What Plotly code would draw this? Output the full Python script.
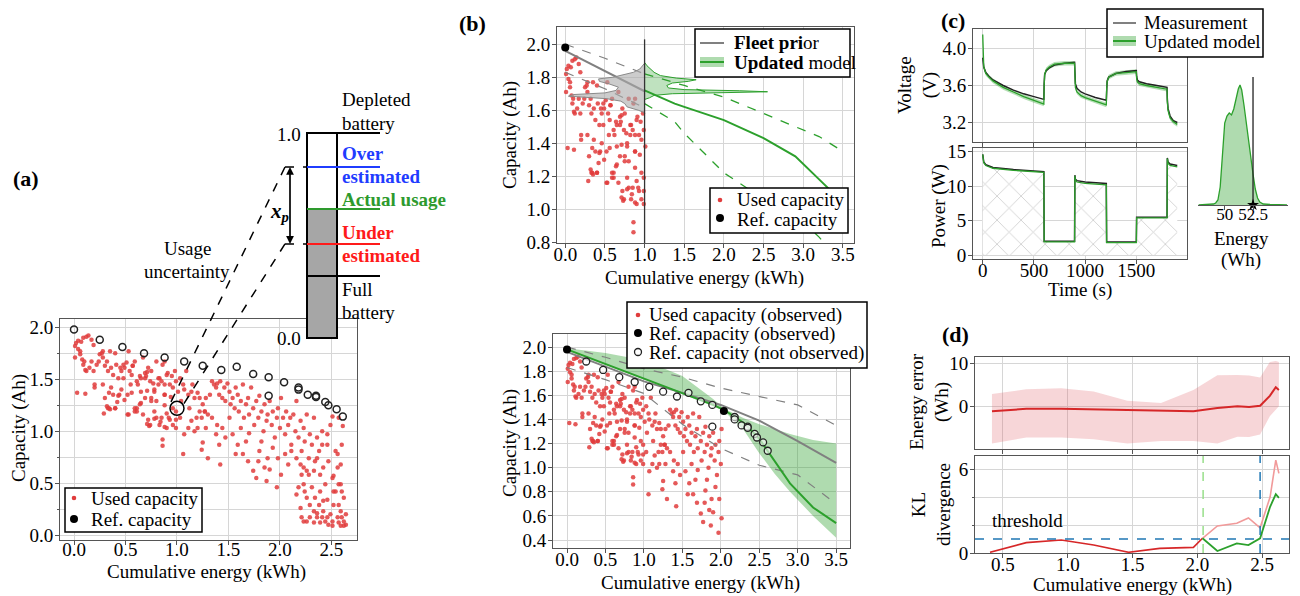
import plotly.graph_objects as go

W, H = 1300, 596
FONT = "Liberation Serif"
FS = 19
FRAME = "#555555"
GRID = "#d6d6d6"
RED = "#e03c3c"
GREEN = "#2ca02c"
LGREEN = "rgba(44,160,44,0.38)"
GRAY = "#808080"

# ---------------- data: used capacity samples (energy kWh, capacity Ah) ----------------
used_energy = [
    0.01, 0.02, 0.04, 0.07, 0.09, 0.12, 0.14, 0.17, 0.19,
    0.01, 0.04, 0.06, 0.06, 0.08, 0.10, 0.11, 0.09, 0.12, 0.15, 0.17, 0.19, 0.20, 0.20,
    0.22, 0.24, 0.25, 0.27, 0.28, 0.28, 0.30, 0.32, 0.33, 0.35, 0.36, 0.38, 0.40, 0.41, 0.43, 0.45,
    0.46, 0.48, 0.49, 0.51, 0.53, 0.54, 0.56, 0.57, 0.59, 0.61, 0.62, 0.64, 0.65, 0.67, 0.69, 0.70,
    0.72, 0.74, 0.75, 0.77, 0.78, 0.80, 0.82, 0.83, 0.85, 0.86, 0.88, 0.90, 0.91, 0.93, 0.95, 0.96,
    0.98, 0.99, 1.01, 1.03, 1.04, 1.06, 1.07, 1.09, 1.11, 1.12, 1.14, 1.15, 1.17, 1.19, 1.20, 1.22,
    1.24, 1.25, 1.27, 1.28, 1.30, 1.32,
    0.03, 0.11, 0.28, 0.30, 0.32, 0.33, 0.35, 0.36, 0.38, 0.40, 0.43, 0.46, 0.49, 0.53, 0.56, 0.59,
    0.61, 0.64, 0.65, 0.67, 0.69, 0.72, 0.74, 0.75, 0.78, 0.80, 0.83, 0.85, 0.86, 0.86, 0.90, 0.93,
    0.96, 0.99, 1.03, 1.06, 1.07, 1.11, 1.14, 1.17, 1.20, 1.24, 1.25, 1.28, 1.30, 1.27, 1.22,
    0.71, 0.73, 0.78, 0.84, 0.88, 0.99, 0.92, 0.99, 0.90, 0.96, 0.88, 0.80, 0.75, 0.59, 0.61, 0.52,
    0.40, 0.29, 0.34, 0.42, 0.65, 0.94, 0.88, 0.71, 0.78, 0.52, 0.44, 0.34, 0.88, 0.82, 0.69, 0.55,
    0.48, 0.57, 0.71, 0.88,
    1.34, 1.36, 1.38, 1.39, 1.41, 1.42, 1.44, 1.46, 1.47, 1.49, 1.51, 1.52, 1.54, 1.56, 1.57, 1.59,
    1.60, 1.62, 1.64, 1.65, 1.67, 1.69, 1.70, 1.72, 1.74, 1.75, 1.77, 1.79, 1.80, 1.82, 1.84, 1.85,
    1.87, 1.88, 1.90, 1.92, 1.93, 1.95, 1.97, 1.98, 2.00, 2.01, 2.03, 2.05, 2.06, 2.08, 2.10, 2.11,
    2.13, 2.15, 2.16, 2.18, 2.20, 2.21, 2.23, 2.24, 2.26, 2.28, 2.29, 2.31, 2.33, 2.34, 2.36, 2.38,
    2.39, 2.41, 2.42, 2.44, 2.46, 2.47, 2.49, 2.51, 2.52, 2.54, 2.56, 2.57, 2.59, 2.60, 2.62, 2.64,
    1.34, 1.38, 1.39, 1.41, 1.42, 1.44, 1.47, 1.51, 1.54, 1.57, 1.59, 1.62, 1.64, 1.67, 1.69, 1.70,
    1.74, 1.77, 1.79, 1.80, 1.82, 1.85, 1.87, 1.88, 1.90, 1.93, 1.97, 1.98, 2.01, 2.05, 2.08, 2.11,
    2.16, 2.20, 2.21, 2.23, 2.24, 2.26, 2.28, 2.29, 2.31, 2.33, 2.34, 2.36, 2.38, 2.39, 2.41, 2.42,
    2.44, 2.46, 2.47, 2.49, 2.51, 2.52, 2.54, 2.56, 2.57, 2.59, 2.60, 2.62, 2.64, 2.16, 2.18, 2.20,
    2.21, 2.23, 2.26, 2.29, 2.33, 2.36, 2.39, 2.42, 2.46, 2.51, 2.59, 2.62, 2.57, 2.52, 2.59, 2.56,
    2.60, 2.61, 2.57, 2.51, 2.46, 2.41, 2.36, 2.33, 2.26, 2.23,
]
used_capacity = [
    1.82, 1.85, 1.87, 1.86, 1.90, 1.91, 1.92, 1.88, 1.83,
    1.71, 1.79, 1.77, 1.74, 1.69, 1.67, 1.59, 1.64, 1.58, 1.61, 1.67, 1.58, 1.45, 1.42,
    1.64, 1.67, 1.74, 1.75, 1.77, 1.71, 1.63, 1.67, 1.58, 1.77, 1.61, 1.54, 1.75, 1.64, 1.51, 1.61,
    1.58, 1.64, 1.61, 1.66, 1.77, 1.58, 1.54, 1.63, 1.67, 1.48, 1.45, 1.53, 1.51, 1.71, 1.56, 1.53,
    1.61, 1.48, 1.58, 1.46, 1.38, 1.67, 1.45, 1.51, 1.48, 1.64, 1.35, 1.54, 1.56, 1.45, 1.53, 1.42,
    1.58, 1.48, 1.38, 1.51, 1.29, 1.45, 1.40, 1.58, 1.35, 1.22, 1.38, 1.45, 1.32, 1.13, 1.37, 1.32,
    1.13, 1.26, 1.19, 1.32, 1.16, 1.35,
    1.37, 1.36, 1.45, 1.32, 1.24, 1.22, 1.21, 1.42, 1.35, 1.22, 1.34, 1.40, 1.30, 1.16, 1.37, 1.19,
    1.22, 1.26, 1.38, 1.16, 1.32, 1.11, 1.06, 1.29, 1.19, 1.13, 1.06, 1.13, 0.92, 0.86, 1.03, 1.11,
    1.06, 1.19, 1.13, 0.78, 0.97, 1.03, 1.10, 1.00, 1.03, 0.82, 0.89, 1.03, 0.74, 1.19, 1.19,
    1.07, 1.05, 1.12, 1.09, 1.04, 1.03, 1.13, 1.11, 1.17, 1.22, 1.25, 1.29, 1.32, 1.22, 1.19, 1.16,
    1.22, 1.17, 1.22, 1.28, 1.27, 1.33, 1.35, 1.39, 1.40, 1.35, 1.35, 1.37, 1.45, 1.51, 1.51, 1.45,
    1.51, 1.63, 1.57, 1.67,
    1.48, 1.45, 1.42, 1.46, 1.35, 1.48, 1.32, 1.42, 1.29, 1.46, 1.38, 1.26, 1.32, 1.22, 1.42, 1.35,
    1.19, 1.29, 1.45, 1.13, 1.26, 1.32, 1.16, 1.42, 1.22, 1.06, 1.29, 1.13, 1.34, 1.19, 1.00, 1.26,
    1.10, 1.16, 1.29, 1.06, 1.19, 0.94, 1.13, 1.22, 1.03, 1.32, 1.13, 0.97, 1.19, 1.06, 1.13, 0.87,
    1.16, 1.00, 1.29, 0.94, 1.10, 0.81, 1.03, 0.90, 1.16, 0.74, 0.97, 0.87, 1.13, 0.71, 0.94, 0.81,
    0.58, 1.00, 0.65, 0.49, 0.87, 0.71, 1.06, 0.55, 0.42, 0.81, 0.65, 0.29, 0.49, 0.17, 0.36, 0.10,
    1.13, 0.97, 1.06, 0.87, 0.68, 1.03, 0.94, 1.13, 0.97, 0.78, 0.87, 1.03, 0.78, 0.90, 0.71, 0.98,
    0.62, 0.55, 0.71, 0.81, 0.90, 0.65, 0.52, 0.74, 0.63, 0.84, 0.46, 0.74, 0.58, 0.78, 0.68, 0.81,
    0.74, 0.68, 0.58, 0.49, 0.42, 0.36, 0.58, 0.29, 0.46, 0.23, 0.36, 0.17, 0.29, 0.42, 0.17, 0.23,
    0.13, 0.34, 0.10, 0.20, 0.13, 0.29, 0.42, 0.17, 0.12, 0.23, 0.42, 0.13, 0.20, 0.39, 0.46, 0.26,
    0.17, 0.13, 0.13, 0.17, 0.12, 0.21, 0.12, 0.33, 0.17, 0.09, 0.09, 0.09, 0.49, 0.57, 0.68, 0.78,
    0.87, 1.05, 1.13, 1.14, 0.97, 0.87, 0.74, 0.62, 0.62, 0.65,
]

ref_energy = [0.00, 0.25, 0.47, 0.68, 0.88, 1.07, 1.25, 1.43, 1.58, 1.74, 1.89, 1.89, 2.04,
              2.18, 2.18, 2.27, 2.35, 2.35, 2.44, 2.47, 2.55, 2.61]
ref_capacity = [1.98, 1.88, 1.81, 1.75, 1.71, 1.67, 1.63, 1.59, 1.62, 1.55, 1.52, 1.34, 1.47,
                1.42, 1.40, 1.35, 1.34, 1.33, 1.28, 1.25, 1.21, 1.14]
observed_ref_idx_bottom = [0, 12]
observed_ref_idx_top = [0]
obs_limit_top = 1.0      # kWh observed in (b) top
obs_limit_bottom = 2.04  # kWh observed in (b) bottom

# battery diagram (fraction of capacity, 0 = bottom, 1 = top)
bat_over = 0.834
bat_actual = 0.629
bat_under = 0.459
bat_full = 0.302
usage_point_energy = 1.0
usage_point_capacity = 1.22

# fleet prior (b)
prior_energy = [0.0, 0.5, 1.0, 1.5, 2.0, 2.5, 3.0, 3.5]
prior_mean = [1.96, 1.84, 1.715, 1.62, 1.52, 1.39, 1.22, 1.04]
prior_upper = [2.00, 1.915, 1.82, 1.75, 1.66, 1.59, 1.52, 1.35]
prior_lower = [1.83, 1.73, 1.615, 1.36, 1.16, 1.02, 0.94, 0.70]

# updated model after 1 kWh (b top)
upd1_energy = [1.0, 1.38, 1.5, 2.0, 2.5, 2.9, 3.2, 3.5]
upd1_mean = [1.72, 1.64, 1.62, 1.54, 1.43, 1.32, 1.18, 1.04]
upd1_upper = [1.82, 1.77, 1.75, 1.68, 1.58, 1.50, 1.44, 1.35]
upd1_lower = [1.64, 1.53, 1.46, 1.22, 1.06, 0.97, 0.83, 0.66]

# capacity densities at 1 kWh (b top)
prior_dens_cap = [1.585, 1.60, 1.62, 1.64, 1.655, 1.67, 1.685, 1.695, 1.705, 1.72, 1.74, 1.76,
                  1.775, 1.79, 1.80, 1.815, 1.83, 1.85, 1.87, 1.885]
prior_dens_w = [0.0, 0.08, 0.22, 0.25, 0.30, 0.48, 0.96, 0.90, 0.50, 0.36, 0.33, 0.45, 0.57,
                0.58, 0.40, 0.28, 0.14, 0.06, 0.02, 0.0]
post_dens_cap = [1.665, 1.675, 1.69, 1.70, 1.712, 1.718, 1.725, 1.735, 1.75, 1.765, 1.775, 1.785,
                 1.795, 1.81, 1.83, 1.85, 1.87, 1.89]
post_dens_w = [0.0, 0.06, 0.12, 0.35, 1.55, 1.20, 0.50, 0.30, 0.28, 0.35, 0.55, 0.65, 0.40,
               0.20, 0.12, 0.07, 0.03, 0.0]

# updated model after 2 kWh (b bottom)
upd2_energy = [0.0, 0.5, 1.0, 1.5, 1.9, 2.04, 2.3, 2.5, 2.7, 2.9, 3.2, 3.5]
upd2_mean = [1.98, 1.86, 1.74, 1.62, 1.52, 1.48, 1.37, 1.24, 1.06, 0.87, 0.67, 0.54]
upd2_upper = [1.99, 1.95, 1.89, 1.76, 1.57, 1.49, 1.41, 1.36, 1.32, 1.28, 1.23, 1.20]
upd2_lower = [1.97, 1.85, 1.73, 1.61, 1.51, 1.47, 1.31, 1.12, 0.95, 0.80, 0.60, 0.42]

# (c) voltage and power profiles
t_v = [0, 3, 10, 30, 60, 100, 200, 300, 400, 500, 597, 600, 605, 620, 650, 700, 800, 897, 900,
       905, 920, 960, 1000, 1100, 1207, 1210, 1215, 1230, 1260, 1300, 1400, 1500, 1503, 1510,
       1530, 1600, 1700, 1800, 1803, 1810, 1830, 1860, 1900]
v_meas = [3.90, 3.86, 3.80, 3.74, 3.70, 3.66, 3.60, 3.55, 3.51, 3.48, 3.45, 3.62, 3.72, 3.76,
          3.79, 3.82, 3.84, 3.85, 3.70, 3.62, 3.57, 3.53, 3.51, 3.47, 3.44, 3.58, 3.65, 3.69,
          3.71, 3.73, 3.75, 3.76, 3.70, 3.66, 3.64, 3.62, 3.60, 3.58, 3.45, 3.35, 3.27, 3.22, 3.20]
v_model = [4.15, 3.95, 3.80, 3.73, 3.69, 3.65, 3.58, 3.53, 3.48, 3.44, 3.40, 3.60, 3.72, 3.77,
           3.80, 3.83, 3.84, 3.84, 3.66, 3.58, 3.53, 3.49, 3.47, 3.43, 3.39, 3.56, 3.64, 3.69,
           3.71, 3.73, 3.74, 3.75, 3.68, 3.64, 3.62, 3.60, 3.58, 3.56, 3.42, 3.33, 3.25, 3.21, 3.18]
v_band = 0.025
t_p = [0, 3, 10, 30, 100, 300, 597, 600, 897, 900, 905, 920, 1000, 1207, 1210, 1500, 1503,
       1800, 1803, 1810, 1830, 1900]
p_meas = [14.6, 13.9, 13.5, 13.1, 12.7, 12.4, 12.1, 2.0, 2.0, 11.6, 11.0, 10.8, 10.6, 10.4,
          1.9, 1.9, 5.5, 5.5, 14.1, 13.5, 13.2, 13.0]
p_model = [14.6, 13.8, 13.4, 13.0, 12.6, 12.3, 12.0, 1.9, 1.9, 11.5, 10.9, 10.6, 10.4, 10.2,
           1.8, 1.8, 5.4, 5.4, 14.0, 13.3, 13.0, 12.8]
hist_energy = [47.7, 48.5, 49.0, 49.2, 49.4, 49.6, 49.8, 50.0, 50.2, 50.4, 50.6, 50.8, 51.0,
               51.2, 51.35, 51.5, 51.7, 51.9, 52.1, 52.3, 52.5, 52.7, 52.9, 53.1, 53.4, 54.0, 55.5]
hist_density = [0, 0.5, 1, 2, 5, 18, 50, 82, 89, 92, 90, 96, 106, 116, 120, 115, 100, 82, 63,
                44, 31, 16, 7, 3, 1, 0.5, 0]
true_energy = 52.5

# (d) energy error and KL divergence
err_energy = [0.415, 0.68, 0.95, 1.2, 1.46, 1.72, 1.97, 2.155, 2.31, 2.40, 2.485, 2.56, 2.606, 2.63]
err_mean = [-1.06, -0.5, -0.45, -0.6, -0.8, -1.06, -1.06, -0.3, 0.08, -0.08, 0.23, 2.5, 4.47, 3.86]
err_upper = [2.9, 4.0, 4.25, 3.5, 1.36, 0.83, 3.86, 7.27, 7.3, 7.2, 6.74, 10.3, 10.5, 10.3]
err_lower = [-8.5, -7.1, -7.1, -7.5, -8.5, -7.9, -7.9, -8.5, -6.9, -7.0, -6.4, -2.2, -0.7, 0.1]
kl_energy = [0.40, 0.68, 0.95, 1.20, 1.47, 1.71, 1.97, 2.04]
kl_prior = [0.05, 0.74, 0.93, 0.57, 0.05, 0.33, 0.40, 1.05]
kl_late_energy = [2.04, 2.155, 2.305, 2.395, 2.485, 2.562, 2.606, 2.63]
kl_prior_late = [1.05, 1.93, 2.12, 2.5, 1.8, 4.0, 6.64, 5.69]
kl_updated = [1.05, 0.14, 0.69, 0.57, 1.05, 3.3, 4.2, 3.94]
kl_threshold = 1.0
switch_green = 2.045
switch_blue = 2.485


# ---------------- helpers ----------------
def PX(x):
    return x / W


def PY(y):
    return 1 - y / H


def dom_x(a, b):
    return [a / W, b / W]


def dom_y(top, bottom):
    return [1 - bottom / H, 1 - top / H]


def ax(domain, rng, anchor, is_x, **kw):
    d = dict(domain=domain, range=rng, anchor=anchor, showline=True, mirror=True,
             linecolor=FRAME, linewidth=1, showgrid=True, gridcolor=GRID, gridwidth=1,
             zeroline=False, ticks="outside", ticklen=4, tickwidth=1, tickcolor=FRAME,
             tickfont=dict(family=FONT, size=FS, color="black"),
             ticklabelstandoff=(-10 if is_x else -2))
    d.update(kw)
    return d


fig = go.Figure()
ann = []
shapes = []


def T(x, y, text, size=FS, color="black", xanchor="center", yanchor="middle", angle=0):
    ann.append(dict(x=PX(x), y=PY(y), xref="paper", yref="paper", text=text, showarrow=False,
                    font=dict(family=FONT, size=size, color=color), xanchor=xanchor,
                    yanchor=yanchor, textangle=angle))


# manual legend pieces (pixel positions in the page)
def leg_box(x0, y0, x1, y1):
    shapes.append(dict(type="rect", xref="paper", yref="paper", x0=PX(x0), x1=PX(x1),
                       y0=PY(y1), y1=PY(y0), fillcolor="white",
                       line=dict(color="black", width=1.5), layer="above"))


def leg_dot(x, y, r, fill, edge=None):
    shapes.append(dict(type="circle", xref="paper", yref="paper", x0=PX(x - r), x1=PX(x + r),
                       y0=PY(y + r), y1=PY(y - r), fillcolor=fill,
                       line=dict(color=edge if edge else fill, width=1.3 if edge else 0),
                       layer="above"))


def leg_line(x0, x1, y, color, width=2):
    shapes.append(dict(type="line", xref="paper", yref="paper", x0=PX(x0), x1=PX(x1),
                       y0=PY(y), y1=PY(y), line=dict(color=color, width=width), layer="above"))


def leg_band(x0, x1, y, h, color):
    shapes.append(dict(type="rect", xref="paper", yref="paper", x0=PX(x0), x1=PX(x1),
                       y0=PY(y + h / 2), y1=PY(y - h / 2), fillcolor=color,
                       line=dict(width=0), layer="above"))


# ---------------- panel (a) ----------------
fig.add_trace(go.Scatter(x=used_energy, y=used_capacity, mode="markers", xaxis="x", yaxis="y",
                         marker=dict(size=4.5, color=RED, opacity=0.85), showlegend=False,
                         name="Used capacity"))
fig.add_trace(go.Scatter(x=ref_energy, y=ref_capacity, mode="markers", xaxis="x", yaxis="y",
                         marker=dict(size=7, color="rgba(0,0,0,0)", line=dict(color="#222", width=1.5)),
                         showlegend=False, name="Ref. capacity"))

XA = [-0.136, 2.748]
YA = [-0.048, 2.08]


def a_px(e, c):
    return (60 + (e - XA[0]) / (XA[1] - XA[0]) * (357 - 60),
            319 + (YA[1] - c) / (YA[1] - YA[0]) * (540 - 319))


# battery diagram
bat_top, bat_bot, bat_l, bat_r, bat_ext = 133, 338, 307, 337, 380


def bat_y(f):
    return bat_bot - f * (bat_bot - bat_top)


shapes.append(dict(type="rect", xref="paper", yref="paper", x0=PX(bat_l), x1=PX(bat_r),
                   y0=PY(bat_bot), y1=PY(bat_y(bat_actual)), fillcolor="#a6a6a6",
                   line=dict(width=0), layer="above"))
shapes.append(dict(type="rect", xref="paper", yref="paper", x0=PX(bat_l), x1=PX(bat_r),
                   y0=PY(bat_bot), y1=PY(bat_top), line=dict(color="black", width=2),
                   fillcolor="rgba(0,0,0,0)", layer="above"))
for f, col in [(1.0, "black"), (bat_over, "#1f3cff"), (bat_actual, "#2e9a2e"),
               (bat_under, "#ff1a1a"), (bat_full, "black")]:
    shapes.append(dict(type="line", xref="paper", yref="paper", x0=PX(bat_l), x1=PX(bat_ext),
                       y0=PY(bat_y(f)), y1=PY(bat_y(f)), line=dict(color=col, width=2),
                       layer="above"))
cx, cy = a_px(usage_point_energy, usage_point_capacity)
for f in [bat_over, bat_under]:
    shapes.append(dict(type="line", xref="paper", yref="paper", x0=PX(285), x1=PX(bat_l),
                       y0=PY(bat_y(f)), y1=PY(bat_y(f)),
                       line=dict(color="black", width=1.5, dash="dash"), layer="above"))
shapes.append(dict(type="line", xref="paper", yref="paper", x0=PX(285), y0=PY(bat_y(bat_over)),
                   x1=PX(cx - 6), y1=PY(cy - 6.5), line=dict(color="black", width=1.5, dash="dash"),
                   layer="above"))
shapes.append(dict(type="line", xref="paper", yref="paper", x0=PX(285), y0=PY(bat_y(bat_under)),
                   x1=PX(cx + 6.5), y1=PY(cy - 4), line=dict(color="black", width=1.5, dash="dash"),
                   layer="above"))
shapes.append(dict(type="circle", xref="x", yref="y",
                   x0=usage_point_energy - 0.068, x1=usage_point_energy + 0.068,
                   y0=usage_point_capacity - 0.067, y1=usage_point_capacity + 0.067,
                   line=dict(color="black", width=1.5), layer="above"))
span = bat_y(bat_under) - bat_y(bat_over)
for y_head, off in [(bat_y(bat_over), span), (bat_y(bat_under), -span)]:
    ann.append(dict(x=PX(290), y=PY(y_head), ax=0, ay=off, xref="paper", yref="paper",
                    axref="pixel", ayref="pixel", text=" ", showarrow=True,
                    arrowhead=2, arrowsize=1.3, arrowwidth=1.2, arrowcolor="black",
                    font=dict(size=4)))

T(279, 212, "<b><i>x<sub>p</sub></i></b>", size=21)
T(187, 248, "Usage")
T(187, 271, "uncertainty")
T(340, 100, "Depleted", xanchor="left")
T(340, 123, "battery", xanchor="left")
T(303, 134, "1.0", xanchor="right")
T(340, 153, "<b>Over</b>", color="#1f3cff", xanchor="left")
T(340, 176, "<b>estimated</b>", color="#1f3cff", xanchor="left")
T(340, 200, "<b>Actual usage</b>", color="#2e9a2e", xanchor="left")
T(340, 232, "<b>Under</b>", color="#ff1a1a", xanchor="left")
T(340, 255, "<b>estimated</b>", color="#ff1a1a", xanchor="left")
T(340, 289, "Full", xanchor="left")
T(340, 312, "battery", xanchor="left")
T(303, 338, "0.0", xanchor="right")
T(26, 178, "<b>(a)</b>", size=22)
T(19, 428, "Capacity (Ah)", angle=-90)
T(206, 572, "Cumulative energy (kWh)")
leg_box(65, 488, 202, 532)
leg_dot(74, 498, 2.3, RED)
leg_dot(74, 519, 4, "black")
T(89, 498, "Used capacity", xanchor="left")
T(89, 519, "Ref. capacity", xanchor="left")

# ---------------- panel (b) top ----------------
top_pts = [(e, c) for e, c in zip(used_energy, used_capacity) if e <= obs_limit_top + 0.02]
n_prior_top = sum(1 for e in prior_energy if e <= obs_limit_top)
fig.add_trace(go.Scatter(x=[p[0] for p in top_pts], y=[p[1] for p in top_pts], mode="markers",
                         xaxis="x2", yaxis="y2", marker=dict(size=4.5, color=RED, opacity=0.85),
                         showlegend=False))
fig.add_trace(go.Scatter(x=prior_energy[:n_prior_top], y=prior_upper[:n_prior_top], mode="lines",
                         xaxis="x2", yaxis="y2", line=dict(color=GRAY, width=1.2, dash="dash"),
                         showlegend=False))
fig.add_trace(go.Scatter(x=prior_energy[:n_prior_top], y=prior_lower[:n_prior_top], mode="lines",
                         xaxis="x2", yaxis="y2", line=dict(color=GRAY, width=1.2, dash="dash"),
                         showlegend=False))
fig.add_trace(go.Scatter(x=prior_energy[:n_prior_top], y=prior_mean[:n_prior_top], mode="lines",
                         xaxis="x2", yaxis="y2", line=dict(color=GRAY, width=2),
                         showlegend=False))
fig.add_trace(go.Scatter(x=[obs_limit_top - w for w in prior_dens_w], y=prior_dens_cap,
                         mode="lines", fill="toself", fillcolor="rgba(170,170,170,0.6)",
                         xaxis="x2", yaxis="y2", line=dict(color="#8a8a8a", width=1),
                         showlegend=False))
fig.add_trace(go.Scatter(x=[obs_limit_top + w for w in post_dens_w], y=post_dens_cap,
                         mode="lines", fill="toself", fillcolor="rgba(44,160,44,0.3)",
                         xaxis="x2", yaxis="y2", line=dict(color=GREEN, width=1),
                         showlegend=False))
fig.add_trace(go.Scatter(x=upd1_energy, y=upd1_upper, mode="lines", xaxis="x2", yaxis="y2",
                         line=dict(color=GREEN, width=1.3, dash="dash"), showlegend=False))
fig.add_trace(go.Scatter(x=upd1_energy, y=upd1_lower, mode="lines", xaxis="x2", yaxis="y2",
                         line=dict(color=GREEN, width=1.3, dash="dash"), showlegend=False))
fig.add_trace(go.Scatter(x=upd1_energy, y=upd1_mean, mode="lines", xaxis="x2", yaxis="y2",
                         line=dict(color=GREEN, width=2), showlegend=False))
fig.add_trace(go.Scatter(x=[obs_limit_top, obs_limit_top], y=[0.7, 2.03], mode="lines",
                         xaxis="x2", yaxis="y2", line=dict(color="#333", width=1.3),
                         showlegend=False))
fig.add_trace(go.Scatter(x=[ref_energy[i] for i in observed_ref_idx_top],
                         y=[ref_capacity[i] for i in observed_ref_idx_top], mode="markers",
                         xaxis="x2", yaxis="y2", marker=dict(size=8, color="black"),
                         showlegend=False))
leg_box(695, 29, 850, 77)
leg_line(700, 724, 43, GRAY, 2)
leg_band(700, 724, 62, 10, LGREEN)
leg_line(700, 724, 62, GREEN, 2)
T(732, 43, "<b>Fleet pri</b>or", xanchor="left")
T(732, 62, "<b>Updated</b> model", xanchor="left")
leg_box(710, 188, 848, 233)
leg_dot(720, 200, 2.3, RED)
leg_dot(720, 218, 4, "black")
T(735, 200, "Used capacity", xanchor="left")
T(735, 219, "Ref. capacity", xanchor="left")
T(472, 23, "<b>(b)</b>", size=22)
T(510, 135, "Capacity (Ah)", angle=-90)
T(704, 278, "Cumulative energy (kWh)")

# ---------------- panel (b) bottom ----------------
bot_pts = [(e, c) for e, c in zip(used_energy, used_capacity) if e <= obs_limit_bottom - 0.03]
fig.add_trace(go.Scatter(x=upd2_energy + upd2_energy[::-1], y=upd2_upper + upd2_lower[::-1],
                         mode="lines", fill="toself", fillcolor=LGREEN, line=dict(width=0),
                         xaxis="x3", yaxis="y3", showlegend=False, hoverinfo="skip"))
fig.add_trace(go.Scatter(x=[p[0] for p in bot_pts], y=[p[1] for p in bot_pts], mode="markers",
                         xaxis="x3", yaxis="y3", marker=dict(size=4.5, color=RED, opacity=0.85),
                         showlegend=False))
for arr in (prior_upper, prior_lower):
    fig.add_trace(go.Scatter(x=prior_energy, y=arr, mode="lines", xaxis="x3", yaxis="y3",
                             line=dict(color=GRAY, width=1.2, dash="dash"), showlegend=False))
fig.add_trace(go.Scatter(x=prior_energy, y=prior_mean, mode="lines", xaxis="x3", yaxis="y3",
                         line=dict(color=GRAY, width=2), showlegend=False))
fig.add_trace(go.Scatter(x=upd2_energy, y=upd2_mean, mode="lines", xaxis="x3", yaxis="y3",
                         line=dict(color=GREEN, width=2), showlegend=False))
unobs = [i for i in range(len(ref_energy)) if i not in observed_ref_idx_bottom]
fig.add_trace(go.Scatter(x=[ref_energy[i] for i in unobs], y=[ref_capacity[i] for i in unobs],
                         mode="markers", xaxis="x3", yaxis="y3",
                         marker=dict(size=7, color="rgba(255,255,255,0.6)",
                                     line=dict(color="#222", width=1.3)), showlegend=False))
fig.add_trace(go.Scatter(x=[ref_energy[i] for i in observed_ref_idx_bottom],
                         y=[ref_capacity[i] for i in observed_ref_idx_bottom], mode="markers",
                         xaxis="x3", yaxis="y3", marker=dict(size=8, color="black"),
                         showlegend=False))
leg_box(627, 302, 867, 368)
leg_dot(638, 315, 2.3, RED)
leg_dot(638, 333, 4, "black")
leg_dot(638, 352, 3.5, "white", "#222")
T(647, 315, "Used capacity (observed)", xanchor="left")
T(647, 334, "Ref. capacity (observed)", xanchor="left")
T(647, 353, "Ref. capacity (not observed)", xanchor="left")
T(510, 443, "Capacity (Ah)", angle=-90)
T(701, 583, "Cumulative energy (kWh)")

# ---------------- panel (c) ----------------
fig.add_trace(go.Scatter(x=t_v + t_v[::-1], y=[v + v_band for v in v_model] + [v - v_band for v in v_model][::-1],
                         mode="lines", fill="toself", fillcolor="rgba(44,160,44,0.35)",
                         line=dict(width=0), xaxis="x4", yaxis="y4", showlegend=False,
                         hoverinfo="skip"))
fig.add_trace(go.Scatter(x=t_v, y=v_meas, mode="lines", xaxis="x4", yaxis="y4",
                         line=dict(color="#222", width=1.5), showlegend=False))
fig.add_trace(go.Scatter(x=t_v, y=v_model, mode="lines", xaxis="x4", yaxis="y4",
                         line=dict(color=GREEN, width=1.3), showlegend=False))
fig.add_trace(go.Scatter(x=t_p, y=p_meas, mode="none", fill="tozeroy", fillcolor="white",
                         fillpattern=dict(shape="x", size=17, solidity=0.1, fgcolor="#a0a0a0",
                                          bgcolor="white"),
                         xaxis="x5", yaxis="y5", showlegend=False, hoverinfo="skip"))
fig.add_trace(go.Scatter(x=t_p, y=p_meas, mode="lines", xaxis="x5", yaxis="y5",
                         line=dict(color="#222", width=1.5), showlegend=False))
fig.add_trace(go.Scatter(x=t_p, y=p_model, mode="lines", xaxis="x5", yaxis="y5",
                         line=dict(color=GREEN, width=1.3), showlegend=False))
fig.add_trace(go.Scatter(x=hist_energy, y=hist_density, mode="lines", fill="tozeroy",
                         fillcolor="rgba(44,160,44,0.38)", line=dict(color=GREEN, width=1.3),
                         xaxis="x6", yaxis="y6", showlegend=False))
fig.add_trace(go.Scatter(x=[true_energy, true_energy], y=[0, 128], mode="lines",
                         xaxis="x6", yaxis="y6", line=dict(color="#222", width=1.3),
                         showlegend=False))
fig.add_trace(go.Scatter(x=[true_energy], y=[0], mode="markers", xaxis="x6", yaxis="y6",
                         marker=dict(symbol="star", size=9, color="black"), cliponaxis=False,
                         showlegend=False))
leg_box(1107, 9, 1263, 57)
leg_line(1113, 1136, 23, GRAY, 2)
leg_band(1113, 1136, 41, 10, LGREEN)
leg_line(1113, 1136, 41, GREEN, 2)
T(1142, 22, "Measurement", xanchor="left")
T(1142, 42, "Updated model", xanchor="left")
T(953, 21, "<b>(c)</b>", size=22)
T(918, 85, "Voltage<br>(V)", angle=-90)
T(939, 206, "Power (W)", angle=-90)
T(1080, 290, "Time (s)")
T(1241, 238, "Energy")
T(1241, 260, "(Wh)")

# ---------------- panel (d) ----------------
fig.add_trace(go.Scatter(x=err_energy + err_energy[::-1], y=err_upper + err_lower[::-1],
                         mode="lines", fill="toself", fillcolor="rgba(225,90,100,0.25)",
                         line=dict(width=0), xaxis="x7", yaxis="y7", showlegend=False,
                         hoverinfo="skip"))
fig.add_trace(go.Scatter(x=err_energy, y=err_mean, mode="lines", xaxis="x7", yaxis="y7",
                         line=dict(color="#d62728", width=2), showlegend=False))
fig.add_trace(go.Scatter(x=kl_energy, y=kl_prior, mode="lines", xaxis="x8", yaxis="y8",
                         line=dict(color="#d62728", width=1.6), showlegend=False))
fig.add_trace(go.Scatter(x=kl_late_energy, y=kl_prior_late, mode="lines", xaxis="x8", yaxis="y8",
                         line=dict(color="#f19a9a", width=1.6), showlegend=False))
fig.add_trace(go.Scatter(x=kl_late_energy, y=kl_updated, mode="lines", xaxis="x8", yaxis="y8",
                         line=dict(color=GREEN, width=1.8), showlegend=False))
shapes.append(dict(type="line", xref="x8 domain", yref="y8", x0=0, x1=1, y0=kl_threshold,
                   y1=kl_threshold, line=dict(color="#1f77b4", width=1.5, dash="dash")))
shapes.append(dict(type="line", xref="x8", yref="y8 domain", x0=switch_green, x1=switch_green,
                   y0=0, y1=1, line=dict(color="#98df8a", width=1.5, dash="dash")))
shapes.append(dict(type="line", xref="x8", yref="y8 domain", x0=switch_blue, x1=switch_blue,
                   y0=0, y1=1, line=dict(color="#1f77b4", width=1.5, dash="dash")))
T(955, 334, "<b>(d)</b>", size=22)
T(929, 402, "Energy error<br>(Wh)", angle=-90)
T(931, 505, "KL<br>divergence", angle=-90)
T(1132, 585, "Cumulative energy (kWh)")
T(990, 520, "threshold", xanchor="left")

# ---------------- layout ----------------
fig.update_layout(
    width=W, height=H, margin=dict(l=0, r=0, t=0, b=0, autoexpand=False),
    paper_bgcolor="white", plot_bgcolor="white", showlegend=False,
    font=dict(family=FONT, size=FS, color="black"),
    xaxis=ax(dom_x(60, 357), XA, "y", True, dtick=0.5, tickformat=".1f", ticklabelstandoff=-12),
    yaxis=ax(dom_y(319, 540), YA, "x", False, dtick=0.5, tickformat=".1f",
             minor=dict(dtick=0.25, showgrid=True, gridcolor=GRID, ticks="outside", ticklen=2,
                        tickcolor=FRAME)),
    xaxis2=ax(dom_x(557, 854), [-0.104, 3.64], "y2", True, dtick=0.5, tickformat=".1f"),
    yaxis2=ax(dom_y(27, 243), [0.794, 2.105], "x2", False, dtick=0.2, tickformat=".1f"),
    xaxis3=ax(dom_x(553, 850), [-0.182, 3.68], "y3", True, dtick=0.5, tickformat=".1f"),
    yaxis3=ax(dom_y(334, 548), [0.334, 2.108], "x3", False, dtick=0.2, tickformat=".1f"),
    xaxis4=ax(dom_x(973, 1187), [-95, 1995], "y4", True, tickvals=[0, 500, 1000, 1500],
              showticklabels=False),
    yaxis4=ax(dom_y(29, 142), [2.99, 4.21], "x4", False, tickvals=[3.2, 3.6, 4.0], tickformat=".1f"),
    xaxis5=ax(dom_x(973, 1187), [-95, 1995], "y5", True, tickvals=[0, 500, 1000, 1500]),
    yaxis5=ax(dom_y(148, 259), [-0.58, 15.54], "x5", False, tickvals=[0, 5, 10, 15]),
    xaxis6=ax(dom_x(1198, 1288), [47.64, 55.59], "y6", True, tickvals=[50, 52.5],
              ticktext=["50", "52.5"], mirror=False, showgrid=False,
              tickfont=dict(family=FONT, size=17, color="black")),
    yaxis6=dict(domain=dom_y(77, 205), range=[0, 128], anchor="x6", visible=False),
    xaxis7=ax(dom_x(975, 1289), [0.284, 2.708], "y7", True, dtick=0.5, showticklabels=False),
    yaxis7=ax(dom_y(357, 449), [-9.75, 11.45], "x7", False, tickvals=[-10, 0, 10]),
    xaxis8=ax(dom_x(975, 1289), [0.284, 2.708], "y8", True, dtick=0.5, tickformat=".1f"),
    yaxis8=ax(dom_y(456, 553), [0, 6.93], "x8", False, tickvals=[0, 6],
              minor=dict(tickvals=[2, 4], showgrid=True, gridcolor=GRID, ticks="outside",
                         ticklen=2, tickcolor=FRAME)),
    annotations=ann, shapes=shapes,
)

fig.write_html("out.html", config={"displayModeBar": False},
               post_script="document.body.style.margin='0px';")
